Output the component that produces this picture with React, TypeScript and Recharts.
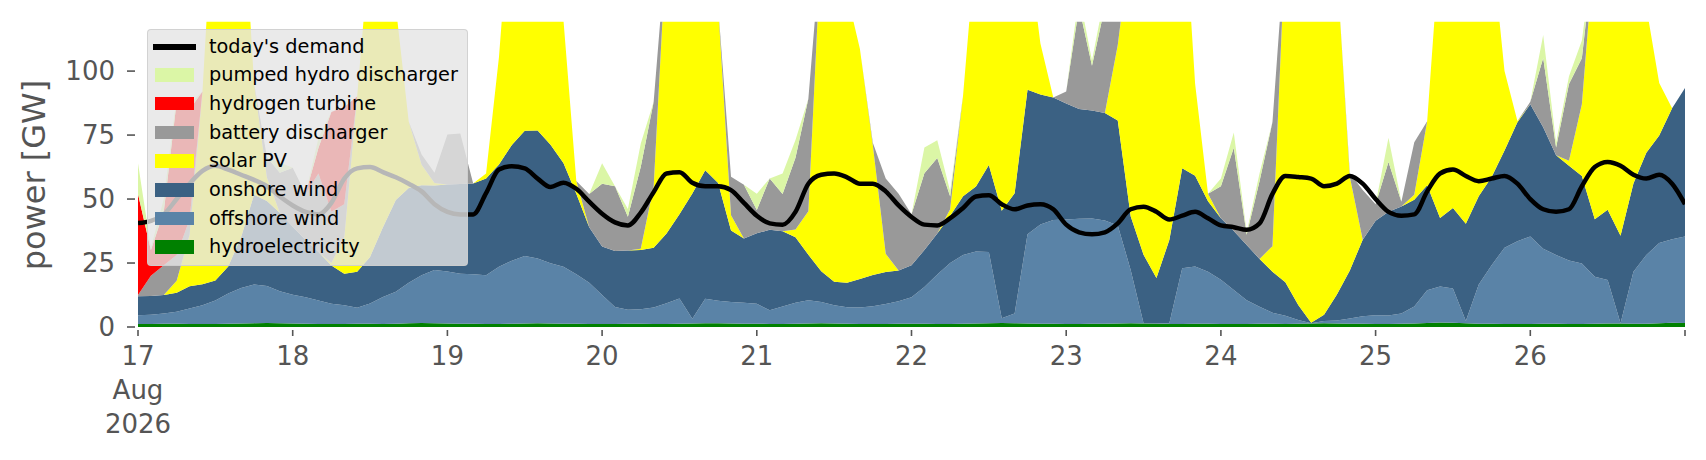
import { ComposedChart, Area, Line, XAxis, YAxis } from "recharts";

// hours since 17 Aug 2026 00:00, every 2 h
const hours = Array.from({ length: 121 }, (_, i) => i * 2);
const dayTicks = [0, 24, 48, 72, 96, 120, 144, 168, 192, 216, 240];
const dayLabels = ["17", "18", "19", "20", "21", "22", "23", "24", "25", "26", ""];
const gwTicks = [0, 25, 50, 75, 100];

const hydro = [
  1.2, 1.2, 1.3, 1.3, 1.2, 1.2, 1.2, 1.3, 1.4, 1.5, 1.6, 1.5,
  1.4, 1.3, 1.2, 1.2, 1.2, 1.3, 1.3, 1.2, 1.3, 1.5, 1.6, 1.5,
  1.4, 1.3, 1.3, 1.2, 1.2, 1.3, 1.4, 1.5, 1.4, 1.3, 1.3, 1.2,
  1.2, 1.2, 1.3, 1.3, 1.2, 1.2, 1.3, 1.4, 1.5, 1.5, 1.4, 1.3,
  1.3, 1.2, 1.2, 1.3, 1.4, 1.5, 1.4, 1.3, 1.2, 1.2, 1.2, 1.3,
  1.3, 1.3, 1.2, 1.2, 1.3, 1.4, 1.5, 1.6, 1.5, 1.4, 1.3, 1.3,
  1.2, 1.2, 1.3, 1.3, 1.4, 1.5, 1.4, 1.3, 1.2, 1.2, 1.3, 1.3,
  1.2, 1.2, 1.2, 1.3, 1.3, 1.2, 1.3, 1.4, 1.5, 1.4, 1.3, 1.3,
  1.2, 1.2, 1.3, 1.4, 1.6, 1.8, 1.7, 1.5, 1.3, 1.3, 1.2, 1.2,
  1.2, 1.3, 1.3, 1.2, 1.2, 1.3, 1.4, 1.4, 1.3, 1.3, 1.5, 1.7,
  1.6,
];

const offshore = [
  3.4, 3.6, 4, 4.7, 6, 7.3, 9.2, 11.8, 13.8, 15.1, 14.4, 12.5,
  11.2, 10.3, 9.2, 7.9, 7.3, 6.2, 7.9, 10.5, 12.5, 15.8, 18.6, 20.8,
  20.3, 19.5, 19.3, 19, 22.3, 24.6, 26.3, 25.3, 23.5, 22.2, 19.3, 16.1,
  11.3, 6.6, 5.4, 5.6, 6.4, 8.1, 9.8, 1.8, 9.5, 8.8, 8.4, 8.2,
  7.8, 5.3, 6.8, 8.2, 9.1, 8.3, 7.1, 6.4, 6.4, 6.9, 7.8, 8.8,
  10.3, 14.3, 19.3, 23.8, 26.8, 28.1, 27.8, 1.8, 3.8, 34.8, 38.8, 40.5,
  40.8, 41.1, 41.1, 40.3, 38.3, 20.8, 0.1, 0.1, 0.3, 21.8, 22.3, 20.3,
  17.3, 13.3, 9.3, 6.6, 4.3, 3.2, 1.4, 0.1, 0.8, 1.1, 2, 2.9,
  3.4, 3.3, 4, 6.6, 12.8, 14, 13.3, 0.8, 15.3, 22.8, 29.8, 32.3,
  34.2, 29.3, 26.8, 24.8, 23.6, 18.3, 17, 0.1, 20.3, 26.8, 31.3, 32.6,
  33.8,
];

const onshore = [
  7.4, 7.3, 7.2, 7.4, 8.7, 8.2, 7.8, 10.5, 20, 35.1, 33.2, 30.6,
  26.6, 22.4, 18.9, 14.9, 12.3, 14.1, 18.2, 27.3, 35.8, 37, 35.2, 33,
  34, 35.1, 35.5, 37.8, 40, 45.2, 49, 50, 46.3, 40.6, 31.5, 21.7,
  19, 21.9, 23.2, 23.2, 23.4, 27.2, 33, 49, 50.3, 46, 27.9, 25.1,
  27.5, 31.5, 29.4, 25.6, 17.7, 12, 9.2, 9.6, 11.2, 12.2, 12.5, 12,
  12.5, 14.5, 16, 18.5, 23, 25.4, 34, 42, 47, 56.5, 50.8, 47.9,
  45.3, 42.9, 42.2, 42, 41, 21, 26.7, 17.7, 32.5, 39, 35.5, 27.5,
  24, 23, 21.5, 18.7, 16, 13.1, 5.9, 0.2, 2.5, 10.2, 18.8, 29.9,
  36.9, 40.5, 41.8, 41.7, 41, 26.8, 31.5, 38, 34.5, 34.5, 38, 46.5,
  51.6, 47.5, 39, 37, 34.2, 22.5, 27.4, 34.2, 34.5, 40, 42, 51.2,
  58,
];

const solar = [
  0, 0, 0, 4.7, 20.1, 75.3, 161.8, 186.5, 145, 43.6, 9.2, 0,
  0, 0, 0, 1, 14.2, 68.5, 122.7, 136, 75.5, 26, 8, 1,
  0, 0, 0, 2, 42, 100, 140, 145, 120, 56, 5, 0,
  0, 0, 0, 0.5, 24, 113.5, 126, 128, 109, 69, 6, 0,
  0, 0, 0, 3, 17, 128.5, 157.5, 112.8, 89.8, 50.7, 7.1, 0,
  0, 0, 0, 2.5, 39.5, 95.3, 107, 130, 120, 57.5, 19.9, 0,
  0, 0, 0, 0, 29.5, 107, 132, 151, 146, 113, 36, 3,
  0, 0, 0, 0, 10, 132.5, 151.5, 163.5, 145.5, 127.5, 36.6, 0,
  0, 0, 0, 2, 25, 108, 114, 125, 114, 91.5, 31, 0.5,
  0, 0, 0, 2, 28, 108, 119.4, 124.5, 94, 57, 20.5, 0,
  0,
];

const battery = [
  0.5, 7.9, 11.6, 10, 6, 0, 0, 0, 0, 0, 8, 15.7,
  23, 18.1, 30.7, 20, 13, 0, 0, 0, 0, 0, 4, 4,
  19.5, 19.7, 0, 0, 0, 0, 0, 0, 0, 0, 0, 13,
  24.5, 25.3, 13.2, 32, 33, 0, 0, 0, 0, 0, 15, 21,
  9.1, 20, 14.6, 28, 44, 0, 0, 0, 0, 1, 29.4, 30,
  20, 30, 29.5, 5, 0, 0, 0, 0, 0, 0, 0, 0,
  4.7, 39.8, 17.5, 41.5, 10, 0, 0, 0, 0, 0, 0, 0,
  12.5, 32.5, 4, 30.5, 48.5, 0, 0, 0, 0, 0, 1.4, 19.4,
  6.5, 19.5, 1.8, 20.5, 0, 0, 0, 0, 0, 0, 0, 0,
  1, 27, 3, 30, 18, 0, 0, 0, 0, 0, 0, 0,
  0,
];

const hydrogen = [
  39.5, 10, 21, 60, 43, 0, 0, 0, 0, 0, 0, 0,
  0, 0, 10, 39, 38, 0, 0, 0, 0, 0, 0, 0,
  0, 0, 0, 0, 0, 0, 0, 0, 0, 0, 0, 0,
  0, 0, 0, 0, 0, 0, 0, 0, 0, 0, 0, 0,
  0, 0, 0, 0, 0, 0, 0, 0, 0, 0, 0, 0,
  0, 0, 0, 0, 0, 0, 0, 0, 0, 0, 0, 0,
  0, 0, 0, 0, 0, 0, 0, 0, 0, 0, 0, 0,
  0, 0, 0, 0, 0, 0, 0, 0, 0, 0, 0, 0,
  0, 0, 0, 0, 0, 0, 0, 0, 0, 0, 0, 0,
  0, 0, 0, 0, 0, 0, 0, 0, 0, 0, 0, 0,
  0,
];

const pumped = [
  12, 1, 5, 2, 2, 0, 0, 0, 0, 0, 0, 4,
  0, 0, 4, 0, 0, 0, 0, 0, 0, 0, 0, 0,
  0, 0, 0, 0, 0, 0, 0, 0, 0, 0, 0, 0,
  8, 0, 3, 9.1, 0, 0, 0, 0, 0, 0, 0, 0,
  6.4, 0, 8, 7, 0, 0, 0, 0, 0, 0, 0, 0,
  0, 10, 7, 2, 0, 0, 0, 0, 0, 0, 0, 0,
  0, 5, 2, 5, 0, 0, 0, 0, 0, 0, 0, 0,
  3, 6, 1, 3, 0, 0, 0, 0, 0, 0, 0, 0,
  0, 9.5, 0, 0, 0, 0, 0, 0, 0, 0, 0, 0,
  0, 9, 2, 3, 7, 0, 0, 0, 0, 0, 0, 0,
  0,
];

const demand = [
  40.6, 41.5, 44, 50, 56, 61, 63, 61.5, 59.5, 57.5, 55, 51,
  47.5, 45, 44, 48.5, 58, 62, 62.5, 60.5, 58.5, 56, 53, 48,
  45, 44, 44, 52.3, 61.5, 62.8, 62, 58, 54.7, 56.4, 54, 49,
  44.3, 40.9, 39.7, 44.7, 52.7, 60, 60.5, 56.4, 55, 55, 53.5, 48.5,
  43.5, 40.5, 40, 45, 56, 59.5, 60, 58.5, 56, 56, 53, 47.5,
  43, 40, 39.7, 42.5, 46.5, 51, 51.5, 48, 46, 47.5, 48, 46,
  40, 37, 36.2, 37, 40.5, 46, 47, 45, 42, 43.5, 45, 42.5,
  39.7, 39, 38, 40.5, 52, 59, 58.6, 58, 55, 56, 59, 56,
  50, 45, 43.5, 44, 53, 60, 61.5, 59, 57, 58, 59, 56,
  50, 46, 45, 46, 55, 62.5, 64.5, 63, 59.5, 58, 59.5, 56,
  48,
];

const data = hours.map((h, i) => ({
  h,
  hydro: hydro[i],
  offshore: offshore[i],
  onshore: onshore[i],
  solar: solar[i],
  battery: battery[i],
  hydrogen: hydrogen[i],
  pumped: pumped[i],
  demand: demand[i],
}));

const series = [
  { key: "hydro", name: "hydroelectricity", color: "#008000" },
  { key: "offshore", name: "offshore wind", color: "#5a83a7" },
  { key: "onshore", name: "onshore wind", color: "#3b6183" },
  { key: "solar", name: "solar PV", color: "#ffff00" },
  { key: "battery", name: "battery discharger", color: "#999999" },
  { key: "hydrogen", name: "hydrogen turbine", color: "#ff0000" },
  { key: "pumped", name: "pumped hydro discharger", color: "#dbf6a6" },
];

const FONT = "'DejaVu Sans', sans-serif";
const TICK = "#555555";

function YTick(props: any) {
  const { y, payload } = props;
  return (
    <g>
      <line x1={127} x2={135} y1={y} y2={y} stroke={TICK} strokeWidth={1.6} />
      <text x={115} y={y} textAnchor="end" dominantBaseline="central" fontSize={26} fill={TICK} fontFamily={FONT}>
        {payload.value}
      </text>
    </g>
  );
}

function XTick(props: any) {
  const { x, payload } = props;
  const idx = dayTicks.indexOf(payload.value);
  const label = dayLabels[idx] ?? "";
  return (
    <g>
      <line x1={x} x2={x} y1={330} y2={336} stroke={TICK} strokeWidth={1.6} />
      <text x={x} y={365} textAnchor="middle" fontSize={26} fill={TICK} fontFamily={FONT}>
        {label}
      </text>
      {idx === 0 && (
        <>
          <text x={x} y={399} textAnchor="middle" fontSize={26} fill={TICK} fontFamily={FONT}>
            Aug
          </text>
          <text x={x} y={433} textAnchor="middle" fontSize={26} fill={TICK} fontFamily={FONT}>
            2026
          </text>
        </>
      )}
    </g>
  );
}

function LegendBox() {
  const items = [
    { name: "today's demand", color: "#000", line: true },
    ...series.slice().reverse().map((s) => ({ name: s.name, color: s.color, line: false })),
  ];
  return (
    <div
      style={{
        position: "absolute",
        left: 147,
        top: 29,
        width: 321,
        height: 237,
        boxSizing: "border-box",
        background: "rgba(229,229,229,0.8)",
        border: "1px solid rgba(204,204,204,0.8)",
        borderRadius: 4,
        fontFamily: FONT,
        fontSize: 19.3,
        color: "#000",
      }}
    >
      {items.map((it, i) => (
        <div
          key={it.name}
          style={{ position: "absolute", left: 0, top: 16.5 + i * 28.7, height: 0, width: "100%" }}
        >
          {it.line ? (
            <div style={{ position: "absolute", left: 5, top: -3, width: 43, height: 6, background: it.color }} />
          ) : (
            <div style={{ position: "absolute", left: 7, top: -7, width: 39, height: 13.5, background: it.color }} />
          )}
          <div style={{ position: "absolute", left: 61, top: -13, lineHeight: "26px", whiteSpace: "nowrap" }}>
            {it.name}
          </div>
        </div>
      ))}
    </div>
  );
}

export default function App() {
  return (
    <div style={{ position: "absolute", left: 0, top: 0, width: 1706, height: 460, background: "#fff" }}>
      <ComposedChart
        width={1706}
        height={460}
        data={data}
        margin={{ top: 21.7, right: 21, bottom: 33, left: 78 }}
      >
        <XAxis
          dataKey="h"
          type="number"
          domain={[0, 240]}
          ticks={dayTicks}
          interval={0}
          allowDataOverflow
          axisLine={false}
          tickLine={false}
          height={100}
          tick={<XTick />}
        />
        <YAxis
          type="number"
          domain={[0, 119.3]}
          ticks={gwTicks}
          interval={0}
          allowDataOverflow
          axisLine={false}
          tickLine={false}
          width={60}
          tick={<YTick />}
        />
        {series.map((s) => (
          <Area
            key={s.key}
            dataKey={s.key}
            name={s.name}
            stackId="supply"
            type="linear"
            stroke="none"
            fill={s.color}
            fillOpacity={1}
            dot={false}
            activeDot={false}
            isAnimationActive={false}
          />
        ))}
        <Line
          dataKey="demand"
          name="today's demand"
          type="monotone"
          stroke="#000"
          strokeWidth={4.5}
          dot={false}
          activeDot={false}
          isAnimationActive={false}
        />
      </ComposedChart>
      <div
        style={{
          position: "absolute",
          left: 34,
          top: 174.5,
          transform: "translate(-50%, -50%) rotate(-90deg)",
          whiteSpace: "nowrap",
          fontFamily: FONT,
          fontSize: 32,
          color: TICK,
        }}
      >
        power [GW]
      </div>
      <LegendBox />
    </div>
  );
}
